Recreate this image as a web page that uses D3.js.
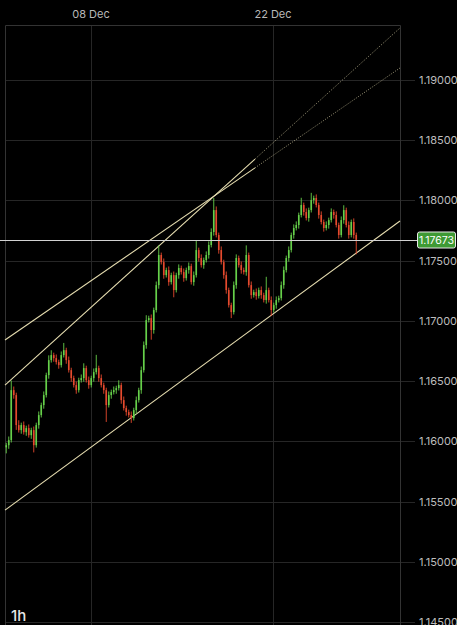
<!DOCTYPE html>
<html>
<head>
<meta charset="utf-8">
<script src="https://cdn.jsdelivr.net/npm/d3@7"></script>
<style>
  html, body { margin: 0; padding: 0; background: #000; overflow: hidden; }
  svg { display: block; font-family: Inter, "Noto Sans", sans-serif; }
</style>
</head>
<body>
<script>
// EUR/USD 1h, candle closes
const firstOpen = 1.15950
const closes = [
  1.15968, 1.16010, 1.16425, 1.16384, 1.16135, 1.16093, 1.16135, 1.16076, 1.16110, 1.16051,
  1.16093, 1.15968, 1.16135, 1.16218, 1.16301, 1.16384, 1.16550, 1.16674, 1.16716, 1.16691,
  1.16658, 1.16633, 1.16716, 1.16757, 1.16674, 1.16591, 1.16525, 1.16467, 1.16425, 1.16508,
  1.16525, 1.16608, 1.16508, 1.16467, 1.16525, 1.16575, 1.16608, 1.16525, 1.16467, 1.16425,
  1.16301, 1.16384, 1.16409, 1.16425, 1.16442, 1.16467, 1.16342, 1.16276, 1.16243, 1.16218,
  1.16193, 1.16259, 1.16342, 1.16425, 1.16591, 1.16799, 1.17007, 1.17023, 1.16924, 1.17090,
  1.17297, 1.17547, 1.17488, 1.17380, 1.17422, 1.17322, 1.17380, 1.17256, 1.17380, 1.17439,
  1.17405, 1.17355, 1.17422, 1.17455, 1.17322, 1.17380, 1.17588, 1.17522, 1.17463, 1.17505,
  1.17547, 1.17630, 1.17738, 1.17920, 1.17713, 1.17588, 1.17488, 1.17380, 1.17256, 1.17131,
  1.17073, 1.17297, 1.17522, 1.17463, 1.17422, 1.17405, 1.17547, 1.17297, 1.17214, 1.17239,
  1.17206, 1.17256, 1.17214, 1.17173, 1.17256, 1.17173, 1.17090, 1.17131, 1.17173, 1.17189,
  1.17297, 1.17422, 1.17522, 1.17588, 1.17713, 1.17771, 1.17796, 1.17879, 1.17962, 1.17904,
  1.17854, 1.17920, 1.18003, 1.18020, 1.17962, 1.17879, 1.17821, 1.17771, 1.17796, 1.17837,
  1.17904, 1.17879, 1.17796, 1.17713, 1.17837, 1.17920, 1.17796, 1.17713, 1.17821, 1.17713,
  1.17673
]
// wick lengths in pips above / below the body
const upWick = [
  2, 3, 8, 3, 2, 4, 2, 3, 2, 3,
  2, 3, 2, 3, 2, 3, 2, 4, 4, 2,
  3, 2, 3, 6, 2, 3, 2, 2, 3, 2,
  3, 4, 2, 3, 2, 3, 11, 2, 3, 2,
  2, 3, 2, 3, 2, 4, 2, 3, 2, 2,
  3, 2, 3, 2, 3, 3, 4, 2, 3, 2,
  3, 8, 2, 3, 2, 3, 2, 3, 2, 3,
  2, 3, 2, 3, 2, 3, 8, 2, 3, 2,
  3, 3, 3, 10, 3, 2, 3, 2, 3, 2,
  2, 3, 3, 2, 3, 2, 8, 2, 3, 2,
  3, 2, 3, 2, 11, 2, 3, 2, 3, 2,
  3, 3, 2, 3, 2, 3, 3, 2, 6, 2,
  3, 2, 6, 2, 3, 2, 3, 2, 3, 2,
  3, 2, 3, 2, 3, 4, 2, 3, 2, 3,
  2
]
const downWick = [
  5, 3, 2, 3, 4, 2, 3, 2, 3, 2,
  3, 6, 2, 3, 2, 3, 2, 3, 2, 3,
  2, 3, 2, 2, 3, 2, 3, 2, 3, 2,
  2, 3, 2, 3, 2, 3, 2, 3, 2, 3,
  14, 2, 3, 2, 3, 2, 3, 2, 3, 2,
  4, 2, 3, 2, 3, 2, 3, 2, 8, 3,
  2, 3, 2, 3, 2, 3, 2, 6, 2, 3,
  2, 3, 2, 3, 2, 3, 2, 3, 2, 3,
  2, 3, 2, 3, 2, 3, 2, 3, 3, 2,
  5, 2, 3, 2, 3, 2, 3, 2, 3, 2,
  3, 2, 3, 2, 3, 2, 5, 2, 3, 2,
  2, 3, 2, 3, 2, 3, 2, 3, 2, 3,
  2, 3, 2, 3, 2, 3, 2, 3, 2, 3,
  2, 3, 2, 3, 2, 3, 2, 3, 2, 3,
  12
]
const dateLabels = ['08 Dec', '22 Dec']
const dateIndex = [34.4, 107.2]
const priceTicks = [1.145, 1.15, 1.155, 1.16, 1.165, 1.17, 1.175, 1.18, 1.185, 1.19]
const lastPrice = 1.17673
// trend lines as [index, price] anchors, solid up to solidTo then dotted
const trendFrom = [[0, 1.15429], [0, 1.16841], [0, 1.16467]]
const trendTo = [[158, 1.17829], [158, 1.19100], [158, 1.19432]]
const trendSolidTo = [158, 100, 100]
const timeframe = '1h'

const width = 457
const height = 625
const plot = {left: 5, right: 400, top: 25}
const pip = 0.0001

const svg = d3.select('body').append('svg')
  .attr('width', width)
  .attr('height', height)

svg.append('rect').attr('width', width).attr('height', height).attr('fill', '#000')

const xScale = d3.scaleLinear().domain([0, 158]).range([plot.left, plot.right])
const yScale = d3.scaleLinear().domain([1.145, 1.19]).range([622, 80])

const candles = closes.map((c, i) => {
  const o = i === 0 ? firstOpen : closes[i - 1]
  return {
    i, o, c,
    h: Math.max(o, c) + upWick[i] * pip,
    l: Math.min(o, c) - downWick[i] * pip
  }
})

// grid
const grid = svg.append('g').attr('stroke', '#262626').attr('stroke-width', 1)
grid.selectAll('.hgrid')
  .data(priceTicks)
  .join('line')
  .attr('x1', plot.left).attr('x2', 415)
  .attr('y1', d => Math.round(yScale(d)) + 0.5)
  .attr('y2', d => Math.round(yScale(d)) + 0.5)
grid.selectAll('.vgrid')
  .data(dateIndex)
  .join('line')
  .attr('x1', d => Math.round(xScale(d)) + 0.5)
  .attr('x2', d => Math.round(xScale(d)) + 0.5)
  .attr('y1', plot.top).attr('y2', height)

// frame
const frame = svg.append('g').attr('stroke', '#333').attr('stroke-width', 1).attr('fill', 'none')
frame.append('path')
  .attr('d', `M${plot.left + 0.5},${height}V${plot.top + 0.5}H${plot.right + 0.5}V${height}`)

// date labels
svg.append('g')
  .selectAll('text')
  .data(dateIndex)
  .join('text')
  .attr('x', d => xScale(d))
  .attr('y', 18)
  .attr('text-anchor', 'middle')
  .attr('fill', '#b8b8b8')
  .attr('font-size', 11)
  .text((d, i) => dateLabels[i])

// price labels
const yAxis = d3.axisRight(yScale)
  .tickValues(priceTicks)
  .tickFormat(d3.format('.5f'))
  .tickSize(0)
  .tickPadding(0)
const yAxisG = svg.append('g')
  .attr('transform', 'translate(419,0)')
  .call(yAxis)
yAxisG.select('.domain').remove()
yAxisG.selectAll('text')
  .attr('fill', '#bdbdbd')
  .attr('font-size', 11)
  .attr('font-family', 'Inter, "Noto Sans", sans-serif')

// trend lines
const trend = svg.append('g').attr('stroke', '#e6ddb0').attr('fill', 'none')
trendFrom.forEach((a, k) => {
  const b = trendTo[k]
  const priceAt = idx => a[1] + (b[1] - a[1]) * (idx - a[0]) / (b[0] - a[0])
  const mid = trendSolidTo[k]
  trend.append('line')
    .attr('x1', xScale(a[0])).attr('y1', yScale(a[1]))
    .attr('x2', xScale(mid)).attr('y2', yScale(priceAt(mid)))
    .attr('stroke-width', 1.1)
  if (mid < b[0]) {
    trend.append('line')
      .attr('x1', xScale(mid)).attr('y1', yScale(priceAt(mid)))
      .attr('x2', xScale(b[0])).attr('y2', yScale(b[1]))
      .attr('stroke-width', 0.8)
      .attr('stroke-dasharray', '1,1.5')
      .attr('opacity', 0.85)
  }
})

// candles
const up = '#66d04a'
const down = '#e64a2e'
const cg = svg.append('g')
cg.selectAll('.wick')
  .data(candles)
  .join('line')
  .attr('x1', d => xScale(d.i + 0.5))
  .attr('x2', d => xScale(d.i + 0.5))
  .attr('y1', d => yScale(d.h))
  .attr('y2', d => yScale(d.l))
  .attr('stroke', d => d.c >= d.o ? up : down)
  .attr('stroke-width', 0.9)
cg.selectAll('.body')
  .data(candles)
  .join('rect')
  .attr('x', d => xScale(d.i + 0.5) - 0.8)
  .attr('width', 1.6)
  .attr('y', d => yScale(Math.max(d.o, d.c)))
  .attr('height', d => Math.max(1, Math.abs(yScale(d.o) - yScale(d.c))))
  .attr('fill', d => d.c >= d.o ? up : down)

// last price line and label
const yLast = Math.round(yScale(lastPrice)) + 0.5
svg.append('line')
  .attr('x1', 0).attr('x2', 417)
  .attr('y1', yLast).attr('y2', yLast)
  .attr('stroke', '#d2d2d2')
  .attr('stroke-width', 1)
svg.append('rect')
  .attr('x', 417.5).attr('y', yLast - 8.5)
  .attr('width', 38).attr('height', 16)
  .attr('rx', 2)
  .attr('fill', '#3e9a34')
  .attr('stroke', '#e8e8e8')
  .attr('stroke-width', 1)
svg.append('text')
  .attr('x', 436.5).attr('y', yLast)
  .attr('dy', '0.35em')
  .attr('text-anchor', 'middle')
  .attr('fill', '#fff')
  .attr('font-size', 10.5)
  .text(d3.format('.5f')(lastPrice))

// timeframe
svg.append('text')
  .attr('x', 11).attr('y', 621)
  .attr('fill', '#e6e6e6')
  .attr('font-size', 15)
  .attr('font-weight', 500)
  .text(timeframe)
</script>
</body>
</html>
